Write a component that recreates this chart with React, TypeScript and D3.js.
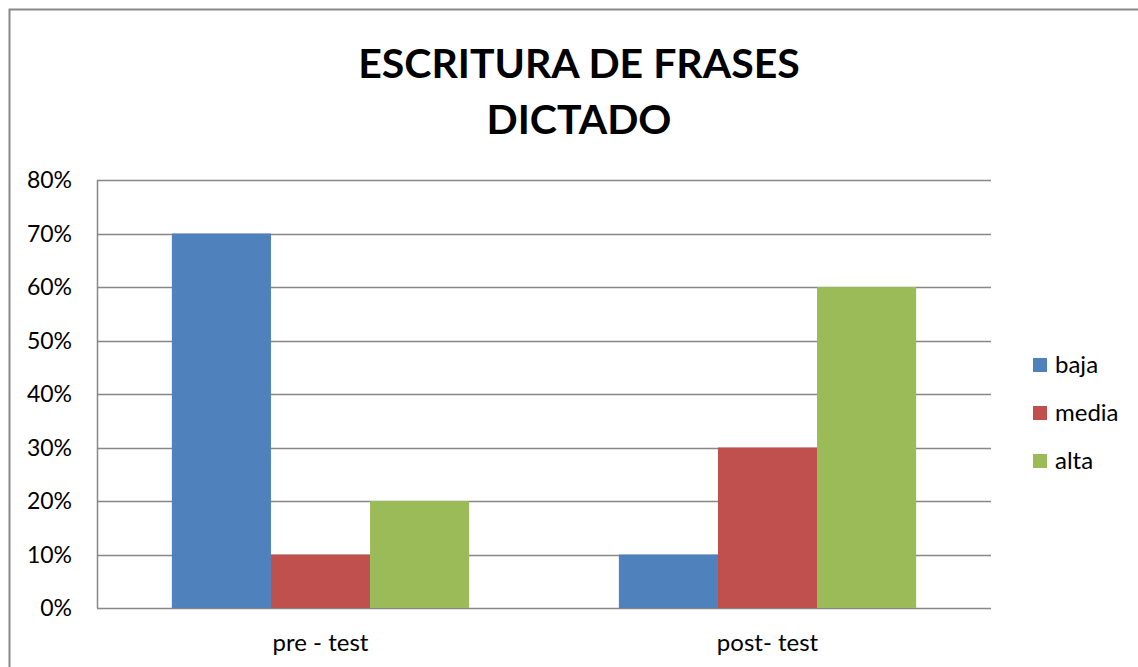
import React, { useEffect, useRef } from 'react';
import * as d3 from 'd3';

const categories = ['pre - test', 'post- test'];
const seriesNames = ['baja', 'media', 'alta'];
const seriesColors = ['#4F81BD', '#C0504D', '#9BBB59'];
const baja = [0.7, 0.1];
const media = [0.1, 0.3];
const alta = [0.2, 0.6];
const yTicks = [0, 0.1, 0.2, 0.3, 0.4, 0.5, 0.6, 0.7, 0.8];
const titleLines = ['ESCRITURA DE FRASES', 'DICTADO'];

const FONT = 'Lato, "Open Sans", sans-serif';

export default function App() {
  const ref = useRef<SVGSVGElement>(null);

  useEffect(() => {
    const svg = d3.select(ref.current);
    svg.selectAll('*').remove();
    const width = 1138, height = 667;
    const margin = { top: 180, right: 147, bottom: 59, left: 97 };
    const w = width - margin.left - margin.right;
    const h = height - margin.top - margin.bottom;
    const values = [baja, media, alta];

    svg.append('rect')
      .attr('x', 9.5).attr('y', 9.5)
      .attr('width', 1140).attr('height', 700)
      .attr('fill', 'white').attr('stroke', '#888').attr('stroke-width', 2);

    const title = svg.append('text')
      .attr('text-anchor', 'middle')
      .attr('font-family', FONT)
      .attr('font-weight', 'bold')
      .attr('font-size', 41)
      .attr('fill', '#000');
    titleLines.forEach((t, i) => {
      title.append('tspan').attr('x', 579).attr('y', 78 + i * 56).text(t);
    });

    const g = svg.append('g').attr('transform', `translate(${margin.left},${margin.top})`);

    const x0 = d3.scaleBand().domain(categories).range([0, w]).paddingInner(0.335).paddingOuter(0.1675);
    const x1 = d3.scaleBand().domain(seriesNames).range([0, x0.bandwidth()]);
    const y = d3.scaleLinear().domain([0, 0.8]).range([h, 0]);

    g.selectAll('.grid')
      .data(yTicks)
      .enter()
      .append('line')
      .attr('x1', 0).attr('x2', w)
      .attr('y1', d => Math.round(y(d)) + 0.5).attr('y2', d => Math.round(y(d)) + 0.5)
      .attr('stroke', '#878787').attr('stroke-width', 1.5);

    g.append('line')
      .attr('x1', 0.5).attr('x2', 0.5).attr('y1', 0).attr('y2', h)
      .attr('stroke', '#878787').attr('stroke-width', 1.5);

    values.forEach((vals, si) => {
      g.selectAll(`.bar-${si}`)
        .data(categories)
        .enter()
        .append('rect')
        .attr('x', d => (x0(d) as number) + (x1(seriesNames[si]) as number))
        .attr('y', (d, i) => y(vals[i]))
        .attr('width', x1.bandwidth())
        .attr('height', (d, i) => h - y(vals[i]))
        .attr('fill', seriesColors[si]);
    });

    g.selectAll('.ylab')
      .data(yTicks)
      .enter()
      .append('text')
      .attr('x', -25)
      .attr('y', d => y(d))
      .attr('dy', '0.35em')
      .attr('text-anchor', 'end')
      .attr('font-family', FONT)
      .attr('font-size', 23)
      .text(d => d3.format('.0%')(d));

    g.selectAll('.xlab')
      .data(categories)
      .enter()
      .append('text')
      .attr('x', d => (x0(d) as number) + x0.bandwidth() / 2)
      .attr('y', h + 43)
      .attr('text-anchor', 'middle')
      .attr('font-family', FONT)
      .attr('font-size', 24)
      .text(d => d);

    const legend = svg.append('g').attr('transform', 'translate(1033,358)');
    seriesNames.forEach((s, i) => {
      legend.append('rect')
        .attr('x', 0).attr('y', i * 48)
        .attr('width', 14).attr('height', 14)
        .attr('fill', seriesColors[i]);
      legend.append('text')
        .attr('x', 22).attr('y', i * 48 + 7)
        .attr('dy', '0.35em')
        .attr('font-family', FONT)
        .attr('font-size', 24)
        .text(s);
    });
  }, []);

  return (
    <svg ref={ref} width={1138} height={667}
      style={{ position: 'absolute', left: 0, top: 0, background: 'white' }} />
  );
}
